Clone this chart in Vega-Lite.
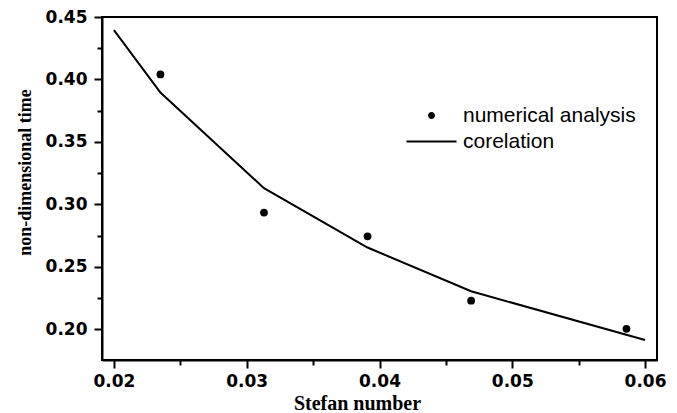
{
  "$schema": "https://vega.github.io/schema/vega-lite/v6.json",
  "width": 555,
  "height": 343,
  "autosize": "none",
  "padding": {"left": 102, "top": 17, "right": 20, "bottom": 53},
  "background": "white",
  "datasets": {
    "num": [
      {"St": 0.0235, "t": 0.404, "series": "numerical analysis"},
      {"St": 0.0313, "t": 0.2935, "series": "numerical analysis"},
      {"St": 0.0391, "t": 0.2745, "series": "numerical analysis"},
      {"St": 0.0469, "t": 0.223, "series": "numerical analysis"},
      {"St": 0.0586, "t": 0.2005, "series": "numerical analysis"}
    ],
    "cor": [
      {"St": 0.0200, "t": 0.4395, "series": "corelation"},
      {"St": 0.0235, "t": 0.3895, "series": "corelation"},
      {"St": 0.0313, "t": 0.313, "series": "corelation"},
      {"St": 0.0391, "t": 0.2655, "series": "corelation"},
      {"St": 0.0469, "t": 0.2305, "series": "corelation"},
      {"St": 0.0600, "t": 0.1915, "series": "corelation"}
    ]
  },
  "encoding": {
    "x": {
      "field": "St",
      "type": "quantitative",
      "scale": {"domain": [0.0191, 0.0609], "nice": false, "zero": false},
      "axis": {
        "title": "Stefan number",
        "values": [0.02, 0.025, 0.03, 0.035, 0.04, 0.045, 0.05, 0.055, 0.06],
        "labelExpr": "abs(round(datum.value*100) - datum.value*100) < 0.01 ? format(datum.value, '.2f') : ''",
        "tickSize": {"condition": {"test": "abs(round(datum.value*100) - datum.value*100) < 0.01", "value": 8}, "value": 5},
        "labelPadding": 5,
        "titleFontSize": 20,
        "titleX": 255,
        "titleY": 49,
        "titleBaseline": "alphabetic",
        "titleAlign": "center"
      }
    },
    "y": {
      "field": "t",
      "type": "quantitative",
      "scale": {"domain": [0.1755, 0.45], "nice": false, "zero": false},
      "axis": {
        "title": "non-dimensional time",
        "values": [0.2, 0.225, 0.25, 0.275, 0.3, 0.325, 0.35, 0.375, 0.4, 0.425, 0.45],
        "labelExpr": "abs(round(datum.value*20) - datum.value*20) < 0.01 ? format(datum.value, '.2f') : ''",
        "tickSize": {"condition": {"test": "abs(round(datum.value*20) - datum.value*20) < 0.01", "value": 8}, "value": 5},
        "labelPadding": 7,
        "titleFontSize": 18,
        "titleX": -72,
        "titleY": 155,
        "titleAngle": -90,
        "titleBaseline": "alphabetic",
        "titleAlign": "center"
      }
    },
    "color": {
      "field": "series",
      "type": "nominal",
      "scale": {"domain": ["numerical analysis", "corelation"], "range": ["black", "black"]},
      "legend": {
        "orient": "none",
        "legendX": 334,
        "legendY": 88,
        "title": null,
        "padding": 0,
        "symbolSize": 400,
        "labelFont": "Liberation Sans",
        "labelFontSize": 21,
        "labelColor": "black",
        "labelOffset": 6,
        "labelLimit": 400,
        "rowPadding": 4,
        "encoding": {
          "symbols": {
            "shape": {"value": {"expr": "datum.value === 'corelation' ? 'M-4,0H1' : 'M-1.85,0A0.35,0.35 0 1,1 -1.15,0A0.35,0.35 0 1,1 -1.85,0Z'"}},
            "fill": {"value": {"expr": "datum.value === 'corelation' ? 'transparent' : 'black'"}},
            "stroke": {"value": "black"},
            "strokeWidth": {"value": {"expr": "datum.value === 'corelation' ? 2 : 0"}},
            "opacity": {"value": 1},
            "fillOpacity": {"value": 1},
            "strokeOpacity": {"value": 1}
          }
        }
      }
    }
  },
  "layer": [
    {
      "data": {"name": "cor"},
      "mark": {"type": "line", "strokeWidth": 2}
    },
    {
      "data": {"name": "num"},
      "mark": {"type": "circle", "size": 60, "opacity": 1}
    }
  ],
  "config": {
    "view": {"stroke": "black", "strokeWidth": 2},
    "axis": {
      "grid": false,
      "domainColor": "black",
      "domainWidth": 2,
      "tickColor": "black",
      "tickWidth": 2,
      "labelColor": "black",
      "labelFont": "DejaVu Sans",
      "labelFontWeight": "bold",
      "labelFontSize": 17,
      "titleColor": "black",
      "titleFont": "Liberation Serif",
      "titleFontWeight": "bold"
    }
  }
}
